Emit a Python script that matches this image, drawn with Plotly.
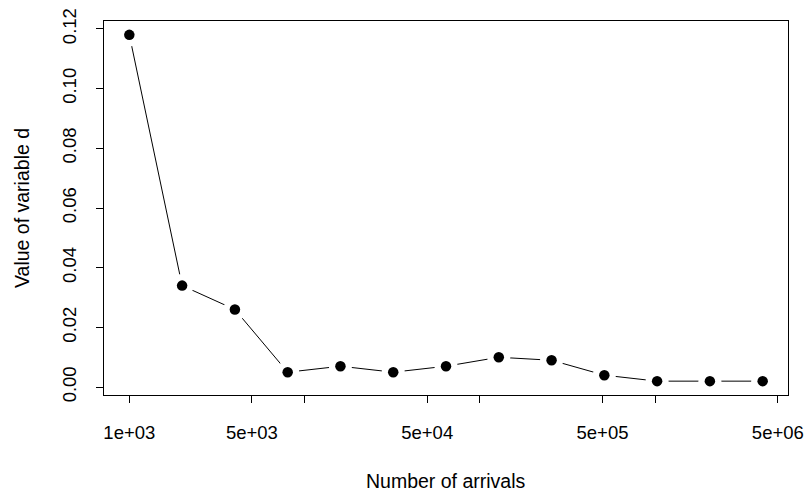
import math
import plotly.graph_objects as go

# ---- data ----
arrivals = [1000, 2000, 4000, 8000, 16000, 32000, 64000, 128000,
            256000, 512000, 1024000, 2048000, 4096000]
d_values = [0.118, 0.034, 0.026, 0.005, 0.007, 0.005, 0.007, 0.010,
            0.009, 0.004, 0.002, 0.002, 0.002]
x_tick_vals = [1e3, 5e3, 1e4, 5e4, 1e5, 5e5, 1e6, 5e6]
x_tick_text = ["1e+03", "5e+03", "", "5e+04", "", "5e+05", "", "5e+06"]
y_tick_vals = [0.00, 0.02, 0.04, 0.06, 0.08, 0.10, 0.12]
y_tick_text = ["0.00", "0.02", "0.04", "0.06", "0.08", "0.10", "0.12"]
x_title = "Number of arrivals"
y_title = "Value of variable d"

# R-style 4% axis padding
lx = [math.log10(v) for v in arrivals]
xpad = 0.04 * (max(lx) - min(lx))
x_range = [min(lx) - xpad, max(lx) + xpad]
ypad = 0.04 * (max(d_values) - min(d_values))
y_range = [min(d_values) - ypad, max(d_values) + ypad]

FONT = "Liberation Sans, Arial, sans-serif"
FS_TICK = 18.5
FS_TITLE = 19.5

fig = go.Figure()
fig.add_trace(go.Scatter(x=arrivals, y=d_values, mode="lines",
                         line=dict(color="black", width=1), hoverinfo="skip"))
fig.add_trace(go.Scatter(x=arrivals, y=d_values, mode="markers",
                         marker=dict(color="white", size=23, line=dict(width=0)),
                         hoverinfo="skip"))
fig.add_trace(go.Scatter(x=arrivals, y=d_values, mode="markers",
                         marker=dict(color="black", size=10.5, line=dict(width=0))))

axis_common = dict(showgrid=False, zeroline=False, showline=True, mirror=True,
                   linecolor="black", linewidth=1, ticks="outside", ticklen=7,
                   tickwidth=1, tickcolor="black", automargin=False,
                   ticklabeloverflow="allow",
                   tickfont=dict(family=FONT, size=FS_TICK, color="black"))

fig.update_xaxes(type="log", range=x_range, tickmode="array",
                 tickvals=x_tick_vals, ticktext=x_tick_text,
                 ticklabelstandoff=14, **axis_common)
fig.update_yaxes(range=y_range, tickmode="array", tickvals=y_tick_vals,
                 ticktext=y_tick_text, tickangle=-90,
                 ticklabelstandoff=13, **axis_common)

fig.add_annotation(text=x_title, xref="paper", yref="paper", x=0.5, y=0,
                   yshift=-86, showarrow=False, xanchor="center", yanchor="middle",
                   font=dict(family=FONT, size=FS_TITLE, color="black"))
fig.add_annotation(text=y_title, xref="paper", yref="paper", x=0, y=0.5,
                   xshift=-82, showarrow=False, textangle=-90,
                   xanchor="center", yanchor="middle",
                   font=dict(family=FONT, size=FS_TITLE, color="black"))

fig.update_layout(width=810, height=495, showlegend=False,
                  plot_bgcolor="white", paper_bgcolor="white",
                  margin=dict(l=104, r=22, t=21, b=100),
                  font=dict(family=FONT, size=FS_TICK, color="black"))

fig.write_html("out.html",
               config={"displayModeBar": False},
               post_script="document.body.style.margin='0px';"
                           "document.body.style.overflow='hidden';")
